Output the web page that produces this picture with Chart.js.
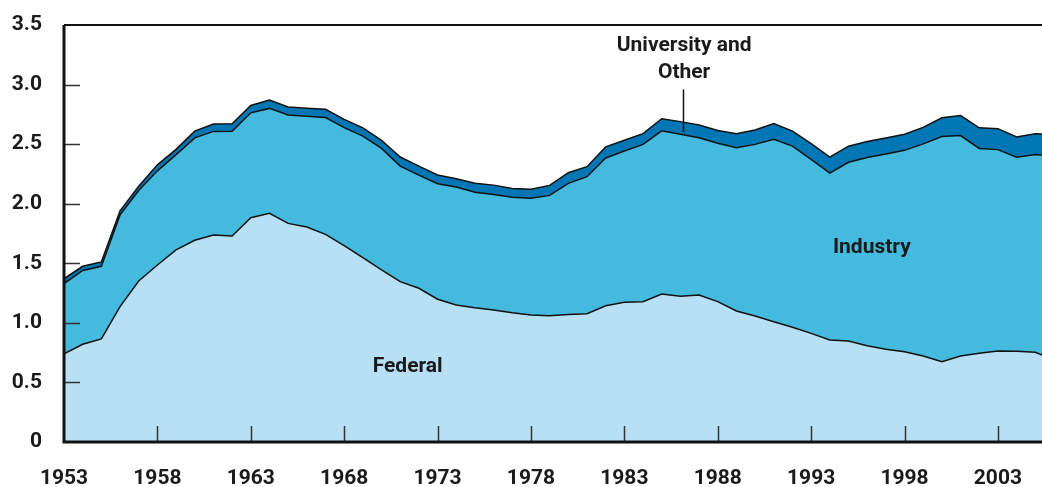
<!DOCTYPE html>
<html>
<head>
<meta charset="utf-8">
<script src="https://cdn.jsdelivr.net/npm/chart.js@4.4.1/dist/chart.umd.min.js"></script>
<style>
  html, body { margin: 0; padding: 0; background: #fff; }
  #wrap { width: 1042px; height: 487px; }
</style>
</head>
<body>
<div id="wrap"><canvas id="rdChart"></canvas></div>
<script>
// Years of data (the last one runs past the right edge of the plot)
const years = [
  1953, 1954, 1955, 1956, 1957, 1958, 1959, 1960, 1961, 1962,
  1963, 1964, 1965, 1966, 1967, 1968, 1969, 1970, 1971, 1972,
  1973, 1974, 1975, 1976, 1977, 1978, 1979, 1980, 1981, 1982,
  1983, 1984, 1985, 1986, 1987, 1988, 1989, 1990, 1991, 1992,
  1993, 1994, 1995, 1996, 1997, 1998, 1999, 2000, 2001, 2002,
  2003, 2004, 2005, 2006
];

// Stacked shares, bottom to top
const federal = [
  0.74, 0.82, 0.865, 1.136, 1.351, 1.486, 1.612, 1.693, 1.737, 1.729,
  1.883, 1.92, 1.835, 1.805, 1.743, 1.648, 1.547, 1.444, 1.346, 1.29,
  1.198, 1.15, 1.127, 1.108, 1.085, 1.066, 1.06, 1.071, 1.077, 1.144,
  1.172, 1.178, 1.242, 1.223, 1.234, 1.178, 1.10, 1.058, 1.01, 0.963,
  0.912, 0.856, 0.848, 0.808, 0.778, 0.758, 0.722, 0.674, 0.722, 0.744,
  0.764, 0.761, 0.753, 0.69
];
const industry = [
  0.59, 0.62, 0.61, 0.77, 0.76, 0.79, 0.80, 0.86, 0.87, 0.88,
  0.88, 0.88, 0.91, 0.93, 0.98, 0.99, 1.02, 1.02, 0.97, 0.95,
  0.97, 0.99, 0.97, 0.97, 0.97, 0.98, 1.01, 1.10, 1.15, 1.24,
  1.27, 1.32, 1.37, 1.36, 1.32, 1.33, 1.37, 1.44, 1.53, 1.52,
  1.46, 1.40, 1.50, 1.58, 1.64, 1.69, 1.78, 1.89, 1.85, 1.72,
  1.69, 1.63, 1.66, 1.71
];
const universityOther = [
  0.04, 0.035, 0.036, 0.034, 0.036, 0.05, 0.044, 0.056, 0.062, 0.062,
  0.062, 0.071, 0.067, 0.067, 0.07, 0.07, 0.07, 0.067, 0.076, 0.076,
  0.073, 0.07, 0.075, 0.078, 0.073, 0.076, 0.084, 0.089, 0.084, 0.093,
  0.09, 0.09, 0.101, 0.106, 0.107, 0.107, 0.118, 0.12, 0.132, 0.126,
  0.132, 0.135, 0.135, 0.135, 0.134, 0.135, 0.139, 0.157, 0.168, 0.173,
  0.176, 0.17, 0.174, 0.18
];

// Axis ticks
const xTickYears = [1953, 1958, 1963, 1968, 1973, 1978, 1983, 1988, 1993, 1998, 2003];
const yTickValues = [0, 0.5, 1.0, 1.5, 2.0, 2.5, 3.0, 3.5];

const labelFont = { family: 'Roboto, "Noto Sans", sans-serif', size: 21, weight: 'bold' };
const inkColor = '#1a1a1a';

function toPoints(values) {
  return values.map((v, i) => ({ x: years[i], y: v }));
}

// Axis lines, inner tick marks and the in-chart labels
const frameAndLabels = {
  id: 'frameAndLabels',
  afterDatasetsDraw(chart) {
    const ctx = chart.ctx;
    const area = chart.chartArea;
    const xs = chart.scales.x;
    const ys = chart.scales.y;
    ctx.save();

    // tick marks drawn inside the plot
    ctx.strokeStyle = '#333';
    ctx.lineWidth = 1.5;
    ctx.beginPath();
    yTickValues.slice(1, -1).forEach(v => {
      const py = Math.round(ys.getPixelForValue(v)) + 0.5;
      ctx.moveTo(area.left, py);
      ctx.lineTo(area.left + 16, py);
    });
    xTickYears.slice(1).forEach(v => {
      const px = Math.round(xs.getPixelForValue(v)) + 0.5;
      ctx.moveTo(px, area.bottom);
      ctx.lineTo(px, area.bottom - 16);
    });
    ctx.stroke();

    // frame: top, left and bottom
    ctx.strokeStyle = '#111';
    ctx.lineWidth = 2;
    ctx.beginPath();
    ctx.moveTo(area.left, area.top);
    ctx.lineTo(area.right, area.top);
    ctx.stroke();
    ctx.lineWidth = 3;
    ctx.beginPath();
    ctx.moveTo(area.left, area.top);
    ctx.lineTo(area.left, area.bottom);
    ctx.lineTo(area.right, area.bottom);
    ctx.stroke();

    // series labels
    ctx.fillStyle = inkColor;
    ctx.font = 'bold 21px Roboto, "Noto Sans", sans-serif';
    ctx.textAlign = 'center';
    ctx.textBaseline = 'middle';
    ctx.fillText('Federal', xs.getPixelForValue(1971.4), ys.getPixelForValue(0.63));
    ctx.fillText('Industry', xs.getPixelForValue(1996.25), ys.getPixelForValue(1.63));
    ctx.fillText('University and', xs.getPixelForValue(1986.2), ys.getPixelForValue(3.325));
    ctx.fillText('Other', xs.getPixelForValue(1986.2), ys.getPixelForValue(3.1));

    // pointer to the thin top band
    ctx.strokeStyle = '#111';
    ctx.lineWidth = 1.5;
    ctx.beginPath();
    const lx = Math.round(xs.getPixelForValue(1986.16)) + 0.5;
    ctx.moveTo(lx, ys.getPixelForValue(2.96));
    ctx.lineTo(lx, ys.getPixelForValue(2.6));
    ctx.stroke();

    ctx.restore();
  }
};

function createRdChart() {
  const ctx = document.getElementById('rdChart').getContext('2d');
  new Chart(ctx, {
    type: 'line',
    data: {
      datasets: [{
        label: 'Federal',
        data: toPoints(federal),
        backgroundColor: '#b8e0f5',
        borderColor: '#111',
        borderWidth: 1.5,
        fill: 'origin'
      }, {
        label: 'Industry',
        data: toPoints(industry),
        backgroundColor: '#44badf',
        borderColor: '#111',
        borderWidth: 1.5,
        fill: '-1'
      }, {
        label: 'University and Other',
        data: toPoints(universityOther),
        backgroundColor: '#0077b4',
        borderColor: '#111',
        borderWidth: 1.5,
        fill: '-1'
      }]
    },
    options: {
      responsive: true,
      maintainAspectRatio: false,
      animation: false,
      layout: {
        padding: { top: 25, left: 0, right: 0, bottom: 0 }
      },
      elements: {
        point: { radius: 0 },
        line: { tension: 0, borderJoinStyle: 'miter' }
      },
      plugins: {
        legend: { display: false },
        tooltip: { enabled: false }
      },
      scales: {
        x: {
          type: 'linear',
          min: 1953,
          max: 2005.36,
          grid: { display: false, drawTicks: false },
          border: { display: false },
          afterBuildTicks: scale => {
            scale.ticks = xTickYears.map(v => ({ value: v }));
          },
          afterFit: scale => {
            scale.height = 45;
            scale.paddingLeft = 0;
            scale.paddingRight = 0;
          },
          ticks: {
            font: labelFont,
            color: inkColor,
            padding: 24,
            maxRotation: 0,
            autoSkip: false,
            callback: v => String(v)
          }
        },
        y: {
          stacked: true,
          min: 0,
          max: 3.5,
          grid: { display: false, drawTicks: false },
          border: { display: false },
          afterBuildTicks: scale => {
            scale.ticks = yTickValues.map(v => ({ value: v }));
          },
          afterFit: scale => {
            scale.width = 64;
            scale.paddingTop = 0;
            scale.paddingBottom = 0;
          },
          ticks: {
            font: labelFont,
            color: inkColor,
            padding: 22,
            callback: v => (v === 0 ? '0' : v.toFixed(1))
          }
        }
      }
    },
    plugins: [frameAndLabels]
  });
}

document.addEventListener('DOMContentLoaded', function() {
  createRdChart();
});
</script>
</body>
</html>
